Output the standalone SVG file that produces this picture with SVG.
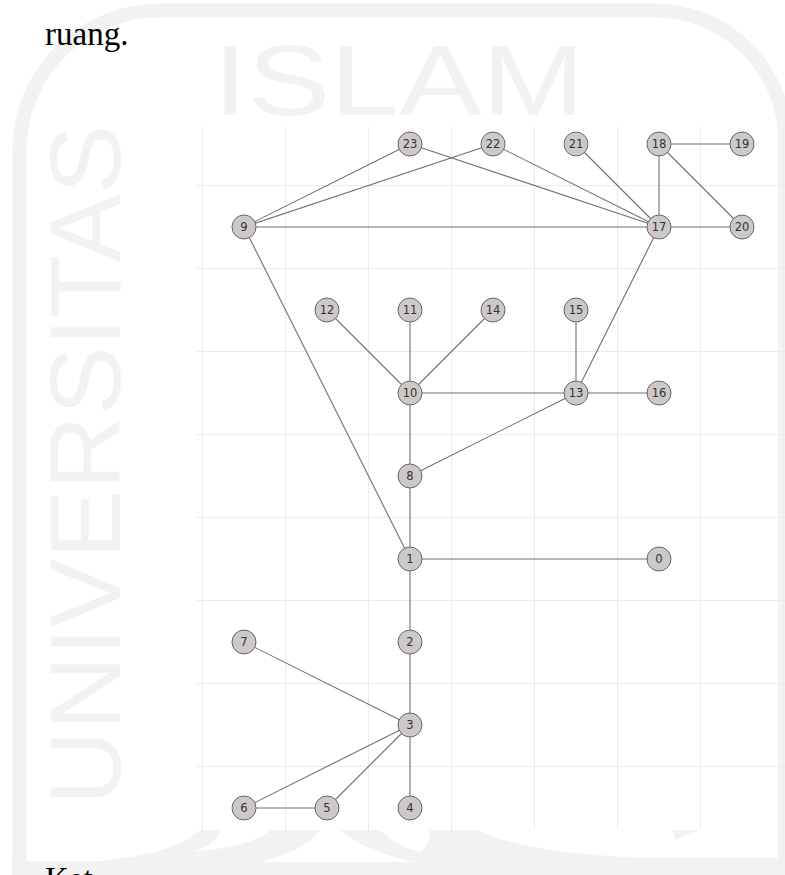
<svg xmlns="http://www.w3.org/2000/svg" width="785" height="875" viewBox="0 0 785 875">
<style>
.wm{fill:#f2f2f2}
.wmf{fill:none;stroke:#f2f2f2}
.wmt{fill:#f2f2f2;font-family:"Liberation Sans","DejaVu Sans",sans-serif;font-size:100px}
.grid line{stroke:#ebebeb;stroke-width:1}
.edges line{stroke:#707070;stroke-width:1.1}
.node circle{fill:#cdc9c8;stroke:#666;stroke-width:1}
.node text{font-family:"DejaVu Sans",sans-serif;font-size:11.5px;fill:#333;text-anchor:middle;dominant-baseline:central}
.body{font-family:"Liberation Serif","Times New Roman",serif;font-size:33px;fill:#000}
</style>
<rect width="785" height="875" fill="#fff"/>
<g id="watermark">
<path class="wmf" stroke-width="14" d="M19.5,862 V150 A140,140 0 0 1 159.5,10.5 H655 A130,130 0 0 1 785,140.5 V875"/>
<rect class="wm" x="12" y="862" width="773" height="13"/>
<text class="wmt" x="213" y="115" textLength="372" lengthAdjust="spacingAndGlyphs">ISLAM</text>
<text class="wmt" transform="translate(120,805) rotate(-90)" x="0" y="0" textLength="680" lengthAdjust="spacingAndGlyphs">UNIVERSITAS</text>
<path class="wm" d="M200,830 L222,830 Q214,845 193,852 Q255,846 270,830 L320,830 Q292,866 200,868 L26,868 L26,861 L100,861 Q175,854 200,830 Z"/>
<path class="wm" d="M340,830 L380,830 Q395,846 420,852 Q432,842 430,830 L477,830 Q520,852 640,858 L778,858 L778,868 L470,868 Q380,864 340,830 Z"/>
<path class="wm" d="M673,830 L700,830 L675,840 Z"/>
</g>
<text class="body" x="45" y="45">ruang.</text>
<text class="body" x="45" y="890">Ket</text>
<g class="grid">
<line x1="202.5" y1="127" x2="202.5" y2="830"/>
<line x1="285.5" y1="127" x2="285.5" y2="830"/>
<line x1="368.5" y1="127" x2="368.5" y2="830"/>
<line x1="451.5" y1="127" x2="451.5" y2="830"/>
<line x1="534.5" y1="127" x2="534.5" y2="830"/>
<line x1="617.5" y1="127" x2="617.5" y2="830"/>
<line x1="700.5" y1="127" x2="700.5" y2="830"/>
<line x1="783.5" y1="127" x2="783.5" y2="830"/>
<line x1="197" y1="185.5" x2="785" y2="185.5"/>
<line x1="197" y1="268.5" x2="785" y2="268.5"/>
<line x1="197" y1="351.5" x2="785" y2="351.5"/>
<line x1="197" y1="434.5" x2="785" y2="434.5"/>
<line x1="197" y1="517.5" x2="785" y2="517.5"/>
<line x1="197" y1="600.5" x2="785" y2="600.5"/>
<line x1="197" y1="683.5" x2="785" y2="683.5"/>
<line x1="197" y1="766.5" x2="785" y2="766.5"/>
</g>
<g id="connectors" class="edges">
<line x1="244" y1="227" x2="410" y2="144"/>
<line x1="244" y1="227" x2="493" y2="144"/>
<line x1="244" y1="227" x2="659" y2="227"/>
<line x1="244" y1="227" x2="410" y2="559"/>
<line x1="410" y1="144" x2="659" y2="227"/>
<line x1="493" y1="144" x2="659" y2="227"/>
<line x1="576" y1="144" x2="659" y2="227"/>
<line x1="659" y1="144" x2="659" y2="227"/>
<line x1="659" y1="144" x2="742" y2="144"/>
<line x1="659" y1="144" x2="742" y2="227"/>
<line x1="659" y1="227" x2="742" y2="227"/>
<line x1="659" y1="227" x2="576" y2="393"/>
<line x1="327" y1="310" x2="410" y2="393"/>
<line x1="410" y1="310" x2="410" y2="393"/>
<line x1="493" y1="310" x2="410" y2="393"/>
<line x1="410" y1="393" x2="576" y2="393"/>
<line x1="576" y1="310" x2="576" y2="393"/>
<line x1="576" y1="393" x2="659" y2="393"/>
<line x1="576" y1="393" x2="410" y2="476"/>
<line x1="410" y1="393" x2="410" y2="476"/>
<line x1="410" y1="476" x2="410" y2="559"/>
<line x1="410" y1="559" x2="659" y2="559"/>
<line x1="410" y1="559" x2="410" y2="642"/>
<line x1="410" y1="642" x2="410" y2="725"/>
<line x1="244" y1="642" x2="410" y2="725"/>
<line x1="410" y1="725" x2="244" y2="808"/>
<line x1="410" y1="725" x2="327" y2="808"/>
<line x1="410" y1="725" x2="410" y2="808"/>
<line x1="244" y1="808" x2="327" y2="808"/>
</g>
<g id="n23" class="node"><circle cx="410" cy="144" r="12"/><text x="410" y="144">23</text></g>
<g id="n22" class="node"><circle cx="493" cy="144" r="12"/><text x="493" y="144">22</text></g>
<g id="n21" class="node"><circle cx="576" cy="144" r="12"/><text x="576" y="144">21</text></g>
<g id="n18" class="node"><circle cx="659" cy="144" r="12"/><text x="659" y="144">18</text></g>
<g id="n19" class="node"><circle cx="742" cy="144" r="12"/><text x="742" y="144">19</text></g>
<g id="n9" class="node"><circle cx="244" cy="227" r="12"/><text x="244" y="227">9</text></g>
<g id="n17" class="node"><circle cx="659" cy="227" r="12"/><text x="659" y="227">17</text></g>
<g id="n20" class="node"><circle cx="742" cy="227" r="12"/><text x="742" y="227">20</text></g>
<g id="n12" class="node"><circle cx="327" cy="310" r="12"/><text x="327" y="310">12</text></g>
<g id="n11" class="node"><circle cx="410" cy="310" r="12"/><text x="410" y="310">11</text></g>
<g id="n14" class="node"><circle cx="493" cy="310" r="12"/><text x="493" y="310">14</text></g>
<g id="n15" class="node"><circle cx="576" cy="310" r="12"/><text x="576" y="310">15</text></g>
<g id="n10" class="node"><circle cx="410" cy="393" r="12"/><text x="410" y="393">10</text></g>
<g id="n13" class="node"><circle cx="576" cy="393" r="12"/><text x="576" y="393">13</text></g>
<g id="n16" class="node"><circle cx="659" cy="393" r="12"/><text x="659" y="393">16</text></g>
<g id="n8" class="node"><circle cx="410" cy="476" r="12"/><text x="410" y="476">8</text></g>
<g id="n1" class="node"><circle cx="410" cy="559" r="12"/><text x="410" y="559">1</text></g>
<g id="n0" class="node"><circle cx="659" cy="559" r="12"/><text x="659" y="559">0</text></g>
<g id="n7" class="node"><circle cx="244" cy="642" r="12"/><text x="244" y="642">7</text></g>
<g id="n2" class="node"><circle cx="410" cy="642" r="12"/><text x="410" y="642">2</text></g>
<g id="n3" class="node"><circle cx="410" cy="725" r="12"/><text x="410" y="725">3</text></g>
<g id="n6" class="node"><circle cx="244" cy="808" r="12"/><text x="244" y="808">6</text></g>
<g id="n5" class="node"><circle cx="327" cy="808" r="12"/><text x="327" y="808">5</text></g>
<g id="n4" class="node"><circle cx="410" cy="808" r="12"/><text x="410" y="808">4</text></g>
</svg>
